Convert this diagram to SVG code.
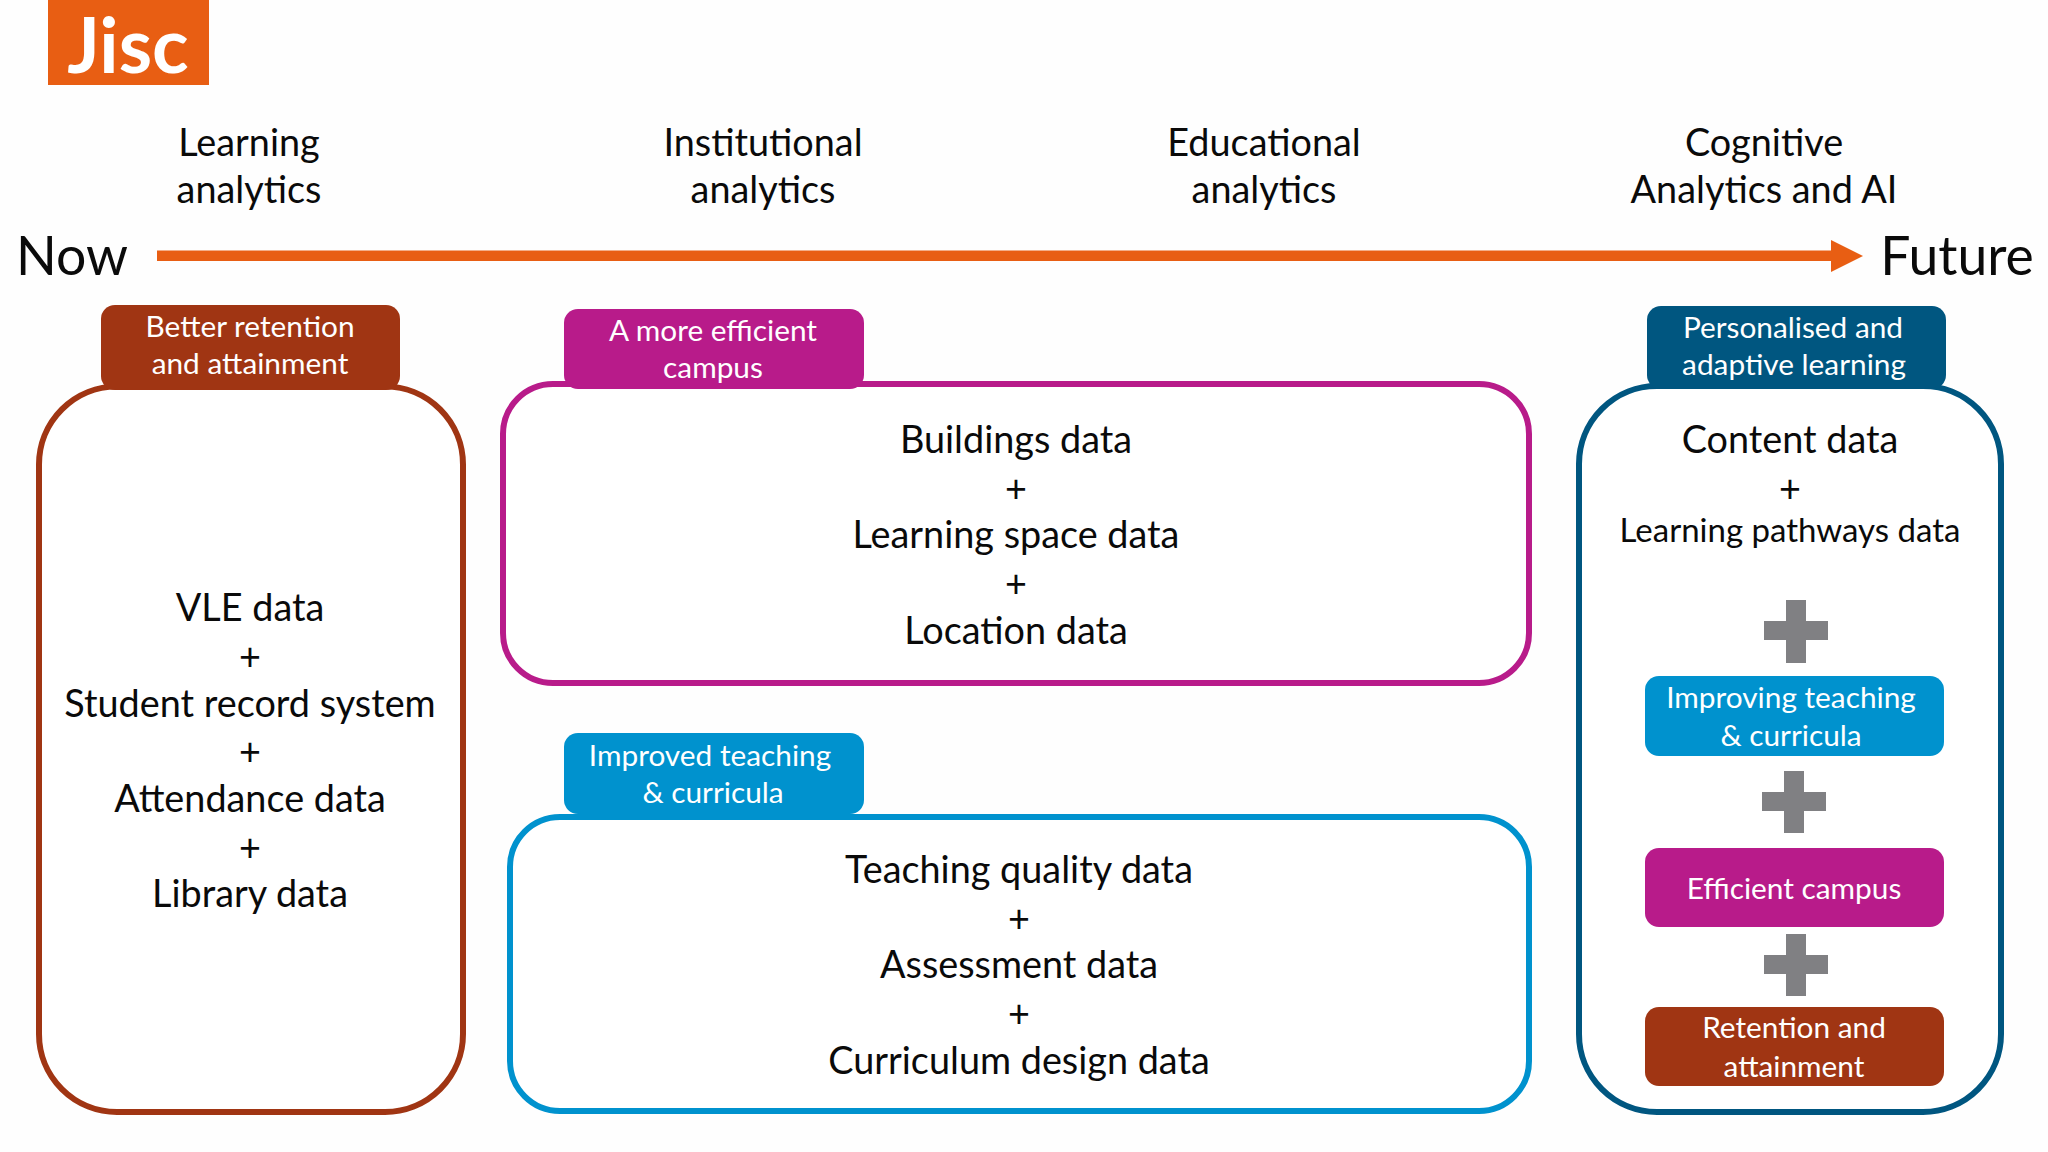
<svg xmlns="http://www.w3.org/2000/svg" width="2048" height="1152" viewBox="0 0 2048 1152">
<style>
text{font-family:"Lato","Open Sans",sans-serif;text-anchor:middle;fill:#0a0a0a}
.h{font-size:37.800px}
.big{font-size:53.500px}
.d{font-size:37.800px}
.t{font-size:29.800px;fill:#fff}
.box{fill:#fff;stroke-width:6}
.cross{fill:#808083}
</style>
<rect width="2048" height="1152" fill="#fefefe"/>
<g id="logo"><rect x="48" y="0" width="161" height="85" fill="#E85E13"/><text x="128" y="73" style="font-size:76px;fill:#fff;font-weight:700">Jisc</text></g>
<g id="headers">
<text class="h" x="249" y="156">Learning</text><text class="h" x="249" y="203">analytics</text>
<text class="h" x="763" y="156">Institutional</text><text class="h" x="763" y="203">analytics</text>
<text class="h" x="1264" y="156">Educational</text><text class="h" x="1264" y="203">analytics</text>
<text class="h" x="1764" y="156">Cognitive</text><text class="h" x="1764" y="203">Analytics and AI</text>
</g>
<g id="now"><text class="big" x="72" y="275">Now</text></g>
<g id="future"><text class="big" x="1957" y="275">Future</text></g>
<g id="connectors"><path d="M157 250.500H1831V240L1863 256L1831 272V261H157Z" fill="#E85E13"/></g>
<g id="learning-analytics">
<rect class="box" x="39" y="386.500" width="424" height="725.500" rx="78" stroke="#A03513"/>
<rect x="101" y="305" width="299" height="85" rx="14" fill="#A03513"/>
<text class="t" x="250" y="337">Better retention</text><text class="t" x="250" y="374">and attainment</text>
<text class="d" x="250" y="621">VLE data</text><text class="d" x="250" y="670">+</text><text class="d" x="250" y="717">Student record system</text><text class="d" x="250" y="765">+</text><text class="d" x="250" y="812">Attendance data</text><text class="d" x="250" y="861">+</text><text class="d" x="250" y="907">Library data</text>
</g>
<g id="institutional-analytics">
<rect class="box" x="503" y="384" width="1026" height="299" rx="50" stroke="#B81B8A"/>
<rect x="564" y="309" width="300" height="80" rx="14" fill="#B81B8A"/>
<text class="t" x="713" y="341">A more efficient</text><text class="t" x="713" y="378">campus</text>
<text class="d" x="1016" y="453">Buildings data</text><text class="d" x="1016" y="502">+</text><text class="d" x="1016" y="548">Learning space data</text><text class="d" x="1016" y="597">+</text><text class="d" x="1016" y="644">Location data</text>
</g>
<g id="educational-analytics">
<rect class="box" x="510" y="817" width="1019" height="294" rx="50" stroke="#0092CE"/>
<rect x="564" y="733" width="300" height="81" rx="14" fill="#0092CE"/>
<text class="t" x="710" y="766">Improved teaching</text><text class="t" x="713" y="803">&amp; curricula</text>
<text class="d" x="1019" y="883">Teaching quality data</text><text class="d" x="1019" y="932">+</text><text class="d" x="1019" y="978">Assessment data</text><text class="d" x="1019" y="1027">+</text><text class="d" x="1019" y="1074">Curriculum design data</text>
</g>
<g id="cognitive-analytics">
<rect class="box" x="1579" y="386" width="422" height="726" rx="78" stroke="#005680"/>
<rect x="1647" y="306" width="299" height="83" rx="14" fill="#005680"/>
<text class="t" x="1793" y="338">Personalised and</text><text class="t" x="1794" y="375">adaptive learning</text>
<text class="d" x="1790" y="453">Content data</text><text class="d" x="1790" y="502">+</text><text x="1790" y="542" style="font-size:33px">Learning pathways data</text>
<path class="cross" d="M1786 600h20v21h22v19h-22v23h-20v-23h-22v-19h22Z"/>
<rect x="1645" y="676" width="299" height="80" rx="14" fill="#0092CE"/>
<text class="t" x="1791" y="708">Improving teaching</text><text class="t" x="1791" y="746">&amp; curricula</text>
<path class="cross" d="M1784 771h20v21h22v19h-22v22h-20v-22h-22v-19h22Z"/>
<rect x="1645" y="848" width="299" height="79" rx="14" fill="#B81B8A"/>
<text class="t" x="1794" y="899">Efficient campus</text>
<path class="cross" d="M1786 934h20v21h22v19h-22v22h-20v-22h-22v-19h22Z"/>
<rect x="1645" y="1007" width="299" height="79" rx="14" fill="#A03513"/>
<text class="t" x="1794" y="1038">Retention and</text><text class="t" x="1794" y="1077">attainment</text>
</g>
</svg>
